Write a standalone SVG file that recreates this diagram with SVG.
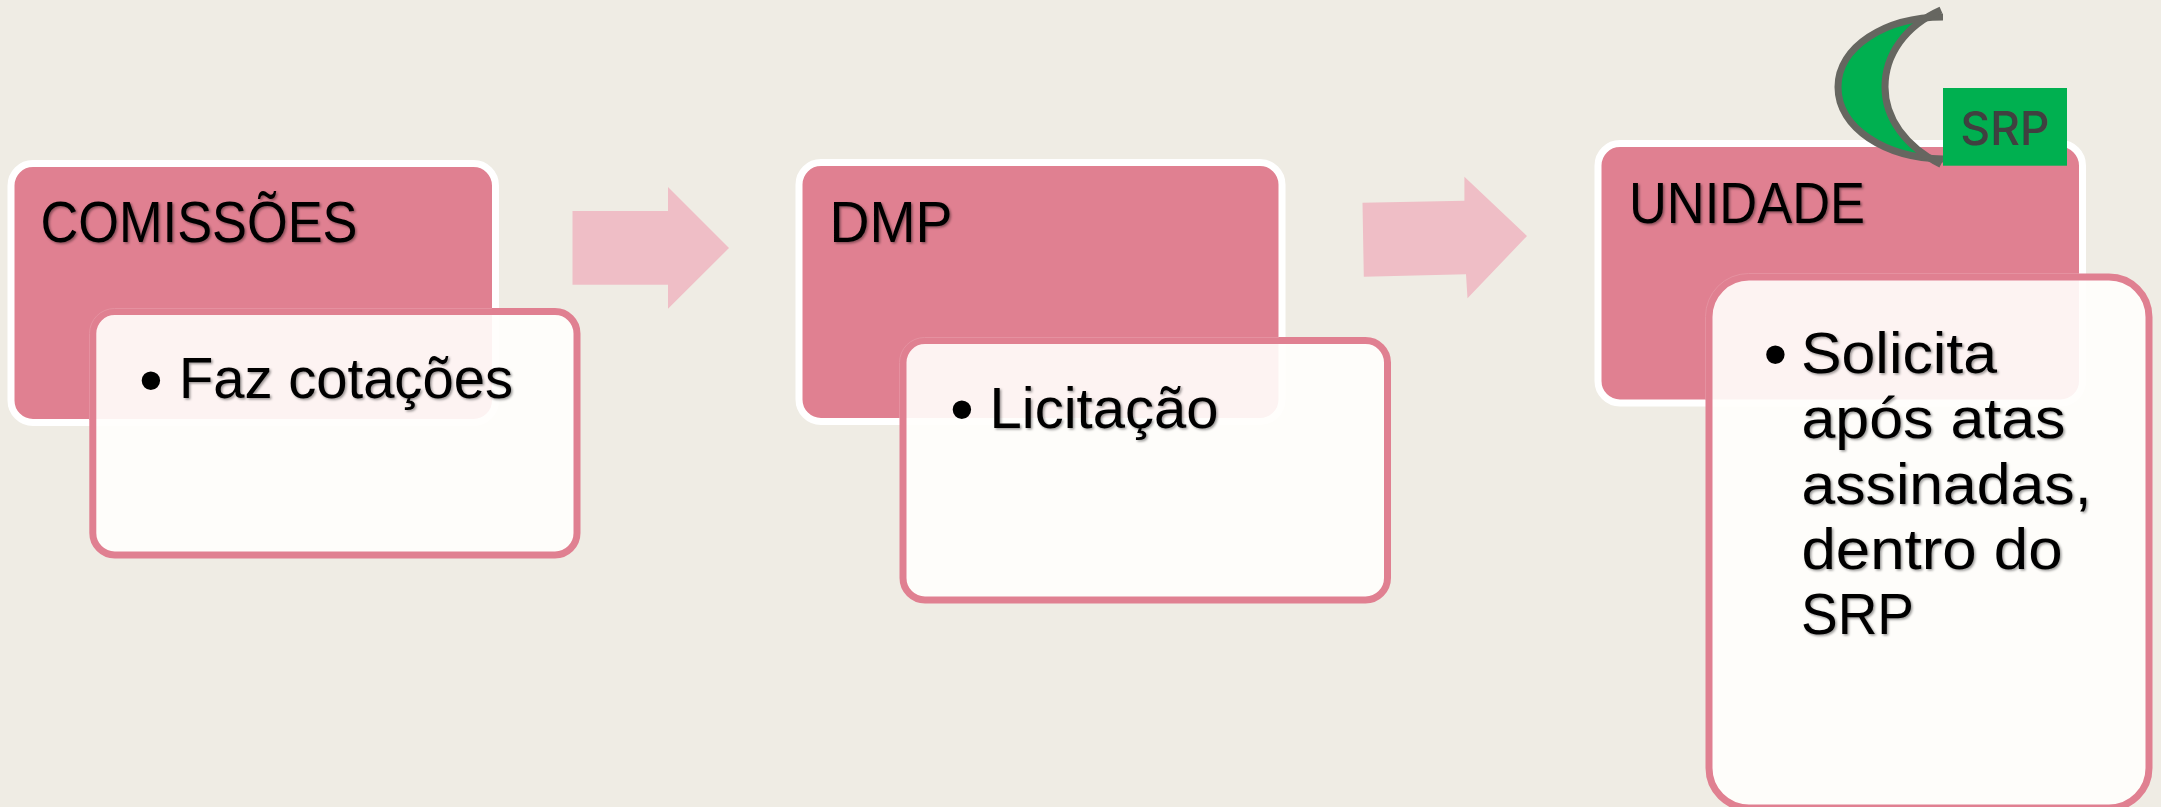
<svg xmlns="http://www.w3.org/2000/svg" width="2161" height="807" viewBox="0 0 2161 807">
<style>
.head{fill:#e08091;stroke:#fff;stroke-width:7}
.body{fill:#fffefc;fill-opacity:.91;stroke:#e08091;stroke-width:7}
.edge{fill:none;stroke:#e591a0;stroke-width:1}
.t{font-family:"Liberation Sans",Arial,sans-serif;font-size:57px;fill:#000;filter:url(#sh)}
.b{font-family:"Liberation Sans",Arial,sans-serif;font-size:68px;fill:#000}
.arrow{fill:#efbec6}
.moon{fill:none;stroke:#666660;stroke-width:7}
</style>
<defs>
<filter id="sh" x="-5%" y="-15%" width="110%" height="130%"><feDropShadow dx="1.5" dy="1.5" stdDeviation="1.2" flood-color="#000" flood-opacity=".4"/></filter>
</defs>
<rect width="2161" height="807" fill="#efece4"/>
<g id="connectors">
<path class="arrow" d="M572.5,211H668V187L729,248L668,308.7V284.7H572.5Z"/>
<path class="arrow" d="M1362.5,202.7L1464.4,200.7V176.7L1527,236L1467.5,298.3L1466,274.3L1363.8,276.7Z"/>
</g>
<g id="node-comissoes">
<rect class="head" x="11" y="163.5" width="484.5" height="259" rx="22"/>
<text class="t" x="40.500" y="242" textLength="317" lengthAdjust="spacingAndGlyphs">COMISSÕES</text>
</g>
<g id="node-faz-cotacoes">
<rect class="body" x="92.8" y="311.5" width="484.2" height="243.5" rx="22"/>
<path class="edge" d="M89.500,420V333.500A25,25 0 0 1 114.500,308.500H492"/>
<text class="b" x="139" y="403">•</text>
<text class="t" x="179" y="398" textLength="334" lengthAdjust="spacingAndGlyphs">Faz cotações</text>
</g>
<g id="node-dmp">
<rect class="head" x="799" y="162.5" width="483" height="259" rx="22"/>
<text class="t" x="829.500" y="241.5" textLength="123" lengthAdjust="spacingAndGlyphs">DMP</text>
</g>
<g id="node-licitacao">
<rect class="body" x="903" y="340.5" width="484.5" height="259.5" rx="22"/>
<path class="edge" d="M899.500,418V362.500A25,25 0 0 1 924.500,337.500H1279"/>
<text class="b" x="950" y="431.700">•</text>
<text class="t" x="989.500" y="427.5" textLength="229" lengthAdjust="spacingAndGlyphs">Licitação</text>
</g>
<g id="node-unidade">
<rect class="head" x="1598" y="143.5" width="484.5" height="259.5" rx="22"/>
<text class="t" x="1629" y="222.5" textLength="236" lengthAdjust="spacingAndGlyphs">UNIDADE</text>
</g>
<g id="node-solicita">
<rect class="body" x="1709" y="277" width="440" height="531" rx="40"/>
<path class="edge" d="M1705.500,399V316.500A43,43 0 0 1 1748.500,273.500H2079"/>
<text class="b" x="1763.500" y="376.500">•</text>
<text class="t" x="1801" y="373" textLength="196" lengthAdjust="spacingAndGlyphs">Solicita</text>
<text class="t" x="1801.500" y="438" textLength="264" lengthAdjust="spacingAndGlyphs">após atas</text>
<text class="t" x="1801.500" y="504" textLength="290" lengthAdjust="spacingAndGlyphs">assinadas,</text>
<text class="t" x="1801.500" y="569" textLength="261" lengthAdjust="spacingAndGlyphs">dentro do</text>
<text class="t" x="1801" y="634" textLength="113" lengthAdjust="spacingAndGlyphs">SRP</text>
</g>
<g id="node-srp">
<path d="M1925,18C1875,22 1838,50 1838,87C1838,125 1875,152 1925,157C1900,140 1885,115 1885,87C1885,60 1900,35 1925,18Z" fill="#00b050"/>
<path class="moon" d="M1943,17C1885,17 1838,47 1838,87C1838,128 1885,158 1943,159"/>
<path class="moon" d="M1941,10C1905,26 1885,55 1885,87C1885,118 1905,146 1941,164.500"/>
<rect x="1943" y="88" width="124" height="77.700" fill="#00b050"/>
<text x="2005" y="145" text-anchor="middle" font-family="Inter,'Noto Sans',sans-serif" font-size="46" font-weight="500" fill="#404040">SRP</text>
</g>
</svg>
